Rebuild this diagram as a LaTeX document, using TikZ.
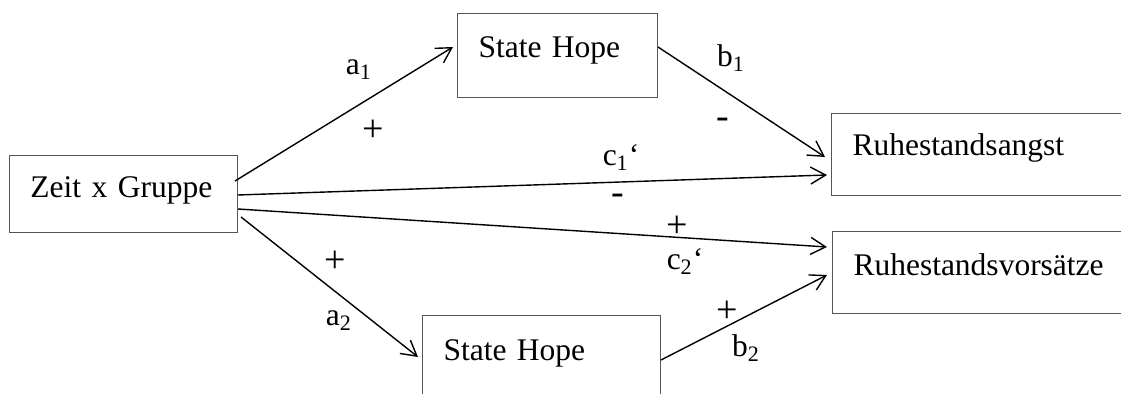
\documentclass[tikz,border=0pt]{standalone}
\usepackage{fontspec}
\setmainfont{Liberation Serif}
\usepackage{tikz}
\usepackage{xcolor}
\definecolor{boxgray}{RGB}{85,85,85}
\usetikzlibrary{arrows.meta}

\begin{document}
\begin{tikzpicture}[x=0.5pt, y=-0.5pt,
        every node/.style={font=\fontsize{15.75}{18}\selectfont},
        varbox/.style={draw=boxgray, line width=0.5pt, anchor=north west, inner xsep=10.5pt, inner ysep=0pt, align=left},
        pathline/.style={-{Straight Barb[length=7.5pt, width=8.5pt]}, line width=0.7pt},
        sign/.style={inner sep=0pt},
        bigsign/.style={inner sep=0pt, font=\fontsize{19}{20}\selectfont}]
            \useasboundingbox (0,0) rectangle (1121,394);
            \clip (0,0) rectangle (1121,394);
            % Variablen
            \node[varbox, text width=93pt, text height=21pt, text depth=17.5pt] (zeit) at (9,155) {Zeit x Gruppe};
            \node[varbox, text width=79pt, text height=22pt, text depth=20pt] (hope1) at (457,13) {State Hope};
            \node[varbox, text width=98pt, text height=22.5pt, text depth=30pt] (hope2) at (422,315) {State Hope};
            \node[varbox, text width=139pt, text height=21pt, text depth=20pt] (angst) at (831,113) {Ruhestandsangst};
            \node[varbox, text width=139pt, text height=22pt, text depth=19pt] (vors) at (832,231) {Ruhestandsvorsätze};
            % Pfade
            \draw[pathline] ([shift={(-1.5pt,-13pt)}]zeit.north east) -- ([shift={(-2pt,-17pt)}]hope1.north west);
            \draw[pathline] ([yshift=-17pt]hope1.north east) -- ([shift={(-3pt,-22pt)}]angst.north west);
            \draw[pathline] ([yshift=-20pt]zeit.north east) -- ([shift={(-2pt,-31pt)}]angst.north west);
            \draw[pathline] ([yshift=-27pt]zeit.north east) -- ([shift={(-2.5pt,-8pt)}]vors.north west);
            \draw[pathline] ([shift={(1.5pt,-31pt)}]zeit.north east) -- ([shift={(-2pt,-21pt)}]hope2.north west);
            \draw[pathline] ([yshift=-22.5pt]hope2.north east) -- ([shift={(-2.5pt,-22pt)}]vors.north west);
            % Beschriftungen
            \node[sign, anchor=base] (la1) at (359,75) {a\textsubscript{1}};
            \node[bigsign] (sa1) at (373,131) {+};
            \node[sign, anchor=base] (lb1) at (731,67) {b\textsubscript{1}};
            \node[bigsign] (sb1) at (723,123) {-};
            \node[sign, anchor=base] (lc1) at (621,166) {c\textsubscript{1}‘};
            \node[bigsign] (sc1) at (618,199) {-};
            \node[bigsign] (sc2) at (677,227) {+};
            \node[sign, anchor=base] (lc2) at (685,270) {c\textsubscript{2}‘};
            \node[bigsign] (sa2) at (335,262) {+};
            \node[sign, anchor=base] (la2) at (339,326) {a\textsubscript{2}};
            \node[bigsign] (sb2) at (727,312) {+};
            \node[sign, anchor=base] (lb2) at (746,357) {b\textsubscript{2}};
        \end{tikzpicture}
\end{document}
